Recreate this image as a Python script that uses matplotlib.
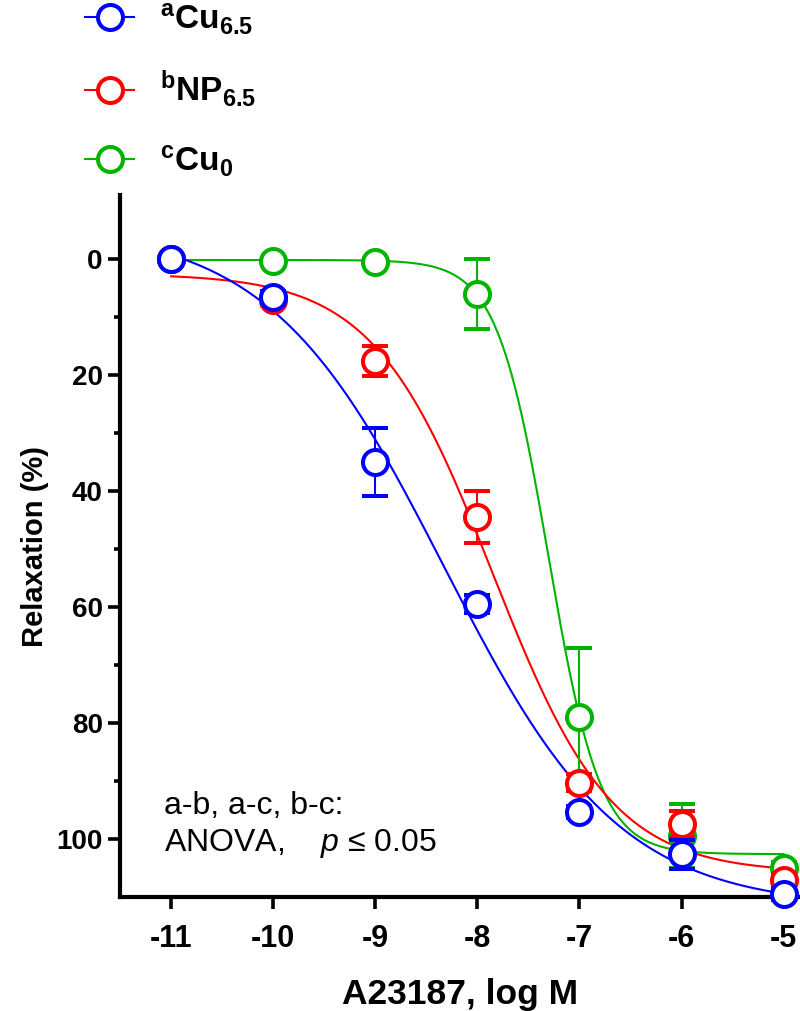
import numpy as np
import matplotlib.pyplot as plt
from matplotlib.lines import Line2D

# ---------------- data (mean +/- SEM) ----------------
log_conc = [-11, -10, -9, -8, -7, -6, -5]

cu65_mean = [0, 6.5, 35, 59.5, 95.3, 102.6, 109.5]
cu65_sem = [0.5, 1.0, 5.8, 1.5, 1.0, 2.5, 1.0]

np65_mean = [0, 7, 17.6, 44.5, 90.3, 97.4, 107]
np65_sem = [0.5, 1.0, 2.6, 4.5, 1.5, 2.2, 1.0]

cu0_mean = [0, 0.3, 0.5, 6, 79, 99.5, 105]
cu0_sem = [0.3, 0.5, 0.5, 6.0, 12.0, 5.5, 1.0]

labels = [r'${}^{\mathbf{a}}\mathbf{Cu}_{\mathbf{6.5}}$',
          r'${}^{\mathbf{b}}\mathbf{NP}_{\mathbf{6.5}}$',
          r'${}^{\mathbf{c}}\mathbf{Cu}_{\mathbf{0}}$']
colors = ['#0000ff', '#ff0000', '#00b400']


# ---------------- 4PL fit (simple Levenberg-Marquardt) ----------------
def logistic(x, top, bottom, logec50, hill):
    return top + (bottom - top) / (1 + 10 ** ((logec50 - x) * hill))


def fit4pl(x, y, p0):
    x = np.asarray(x, float)
    y = np.asarray(y, float)
    p = np.array(p0, float)
    lam = 1e-2
    for _ in range(300):
        r = y - logistic(x, *p)
        J = np.empty((len(x), 4))
        for j in range(4):
            dp = np.zeros(4)
            dp[j] = 1e-6 * max(1.0, abs(p[j]))
            J[:, j] = (logistic(x, *(p + dp)) - logistic(x, *p)) / dp[j]
        A = J.T @ J
        g = J.T @ r
        step = np.linalg.solve(A + lam * np.diag(np.diag(A) + 1e-9), g)
        if np.sum((y - logistic(x, *(p + step))) ** 2) < np.sum(r ** 2):
            p = p + step
            lam *= 0.3
        else:
            lam *= 10
    return p


plt.rcParams['mathtext.fontset'] = 'custom'
plt.rcParams['mathtext.rm'] = 'Liberation Sans'
plt.rcParams['mathtext.bf'] = 'Liberation Sans:bold'
plt.rcParams['mathtext.it'] = 'Liberation Sans:italic'
plt.rcParams['font.family'] = ['Liberation Sans', 'DejaVu Sans']

fig = plt.figure(figsize=(8, 10.11), dpi=100)
ax = fig.add_axes([0.15, 0.1128, 0.85, 0.694])

series = [(cu0_mean, cu0_sem, colors[2], [0, 104, -7.3, 1.7], 2),
          (np65_mean, np65_sem, colors[1], [0, 108, -7.8, 0.6], 3),
          (cu65_mean, cu65_sem, colors[0], [0, 110, -8.2, 0.55], 4)]

xfine = np.linspace(-11, -5, 400)
for mean, sem, col, p0, z in series:
    p = fit4pl(log_conc, mean, p0)
    ax.plot(xfine, logistic(xfine, *p), color=col, lw=1.5, zorder=1)
    ax.errorbar(log_conc, mean, yerr=sem, fmt='o', color=col, ms=18, mew=2.9,
                mfc='white', mec=col, ecolor=col, elinewidth=1.5, capsize=9.4,
                capthick=1.5, zorder=z, clip_on=False)

ax.set_xlim(-11.5, -4.84)
ax.set_ylim(110, -11)
ax.set_xticks(log_conc)
ax.set_xticklabels([str(v) for v in log_conc])
ax.set_yticks([0, 20, 40, 60, 80, 100])
ax.set_yticks([10, 30, 50, 70, 90], minor=True)

for s in ['top', 'right']:
    ax.spines[s].set_visible(False)
for s in ['left', 'bottom']:
    ax.spines[s].set_linewidth(3)

ax.tick_params(axis='both', which='major', direction='out', length=8.5, width=2.6)
ax.tick_params(axis='y', which='minor', direction='out', length=4.5, width=2.6)
ax.tick_params(axis='x', which='minor', length=0)
ax.tick_params(axis='y', labelsize=20, pad=4)
ax.tick_params(axis='x', labelsize=22, pad=11)
for t in ax.get_yticklabels() + ax.get_xticklabels():
    t.set_fontweight('bold')

ax.set_ylabel('Relaxation (%)', fontsize=21, fontweight='bold', labelpad=5)
ax.set_xlabel('A23187, log M', fontsize=25.5, fontweight='bold', labelpad=17)

ax.text(-11.07, 94.3, 'a-b, a-c, b-c:', fontsize=23, va='center')
ax.text(-11.07, 100.8, 'ANOVA,    $p$ \u2264 0.05', fontsize=23, va='center')

handles = [Line2D([], [], color=c, lw=1.5, marker='o', ms=18, mew=2.9, mfc='white', mec=c)
           for c in colors]
fig.legend(handles, labels, loc='upper left', bbox_to_anchor=(0.09, 1.012),
           frameon=False, fontsize=24, handlelength=1.45, handletextpad=0.78,
           labelspacing=0.98, borderaxespad=0)

fig.savefig('out.png', dpi=100)
